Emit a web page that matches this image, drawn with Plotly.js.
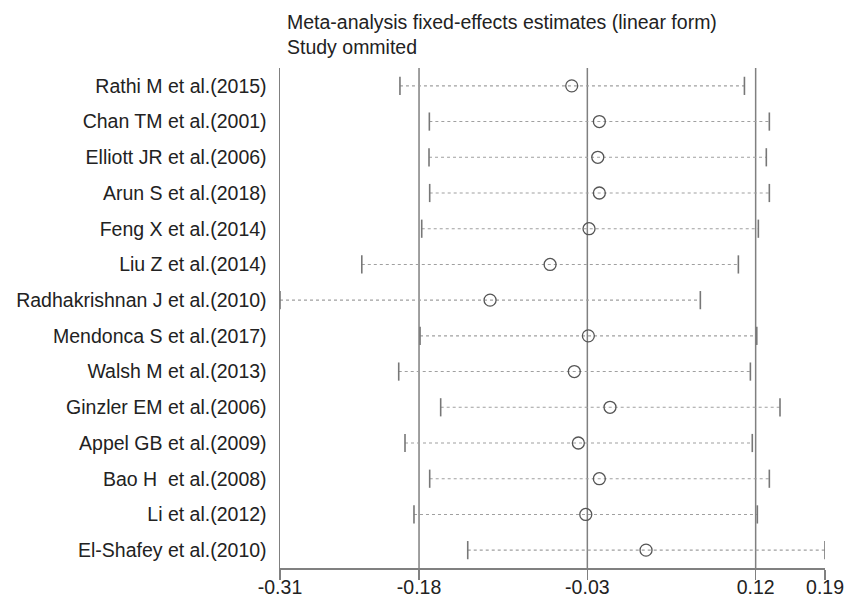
<!DOCTYPE html>
<html>
<head>
<meta charset="utf-8">
<script src="https://cdn.plot.ly/plotly-3.0.1.min.js"></script>
<style>html,body{margin:0;padding:0;background:#fff;}#chart{width:850px;height:598px;}</style>
</head>
<body>
<div id="chart"></div>
<script>
// Study omitted (top to bottom)
const studies = [
  "Rathi M et al.(2015)",
  "Chan TM et al.(2001)",
  "Elliott JR et al.(2006)",
  "Arun S et al.(2018)",
  "Feng X et al.(2014)",
  "Liu Z et al.(2014)",
  "Radhakrishnan J et al.(2010)",
  "Mendonca S et al.(2017)",
  "Walsh M et al.(2013)",
  "Ginzler EM et al.(2006)",
  "Appel GB et al.(2009)",
  "Bao H  et al.(2008)",
  "Li et al.(2012)",
  "El-Shafey et al.(2010)"
];
const estimate = [-0.0439, -0.0193, -0.0207, -0.0193, -0.0285, -0.0632, -0.1167, -0.0291, -0.0416, -0.0098, -0.0380, -0.0193, -0.0314, 0.0223];
const lowerCI  = [-0.1970, -0.1708, -0.1711, -0.1705, -0.1776, -0.2310, -0.3039, -0.1791, -0.1981, -0.1607, -0.1925, -0.1705, -0.1845, -0.1366];
const upperCI  = [0.1100, 0.1322, 0.1295, 0.1322, 0.1224, 0.1046, 0.0707, 0.1210, 0.1153, 0.1417, 0.1170, 0.1322, 0.1215, 0.1818];
// overall combined estimate: lower CI, estimate, upper CI
const overall = [-0.18, -0.03, 0.12];
// axis ticks
const tickVals = [-0.3039, -0.18, -0.03, 0.12, 0.1818];
const tickLabels = ["-0.31", "-0.18", "-0.03", "0.12", "0.19"];
const titleLines = ["Meta-analysis fixed-effects estimates (linear form)", "Study ommited"];

const n = studies.length;
const ypos = studies.map((s, i) => n - i);

const lx = [], ly = [];
for (let i = 0; i < n; i++) {
  lx.push(lowerCI[i], upperCI[i], null);
  ly.push(ypos[i], ypos[i], null);
}

const FS = 19.5;

const traces = [
  {x: lx, y: ly, mode: 'lines', type: 'scatter', line: {color: '#a0a0a0', width: 1.1, dash: 'dot'}, hoverinfo: 'skip'},
  {x: lowerCI.concat(upperCI), y: ypos.concat(ypos), mode: 'markers', type: 'scatter',
   marker: {symbol: 'line-ns', size: 13, line: {color: '#777777', width: 1.6}}, hoverinfo: 'skip'},
  {x: estimate, y: ypos, mode: 'markers', type: 'scatter',
   marker: {symbol: 'circle-open', size: 12, color: '#555555', line: {color: '#555555', width: 1.3}}}
];

const shapes = overall.map(v => ({type: 'line', xref: 'x', yref: 'paper', x0: v, x1: v, y0: 0, y1: 1,
  line: {color: '#808080', width: 1.5}, layer: 'below'}));

const layout = {
  width: 850, height: 598,
  margin: {l: 280, r: 25, t: 68, b: 30},
  paper_bgcolor: '#ffffff', plot_bgcolor: '#ffffff',
  showlegend: false,
  font: {family: 'Liberation Sans, Arial, sans-serif', color: '#222222', size: FS},
  xaxis: {
    range: [tickVals[0], tickVals[tickVals.length - 1]],
    tickmode: 'array', tickvals: tickVals, ticktext: tickLabels,
    ticks: 'outside', ticklen: 10, tickwidth: 1.5, tickcolor: '#808080',
    showline: true, linecolor: '#808080', linewidth: 1.5,
    showgrid: false, zeroline: false, automargin: false,
    tickfont: {size: FS, color: '#222222'}, ticklabelstandoff: -9
  },
  yaxis: {
    range: [0.5, n + 0.5],
    tickmode: 'array', tickvals: ypos, ticktext: studies,
    ticks: '', showline: true, linecolor: '#808080', linewidth: 1.5,
    showgrid: false, zeroline: false, automargin: false,
    tickfont: {size: FS, color: '#222222'}, ticklabelstandoff: 8
  },
  shapes: shapes,
  annotations: titleLines.map((t, i) => ({text: t, xref: 'paper', yref: 'paper', x: 0.0, xshift: 5,
    xanchor: 'left', y: 1, yshift: 46 - 25 * i, yanchor: 'middle', showarrow: false,
    font: {size: FS, color: '#222222'}}))
};

Plotly.newPlot('chart', traces, layout, {displayModeBar: false, staticPlot: true});
</script>
</body>
</html>
